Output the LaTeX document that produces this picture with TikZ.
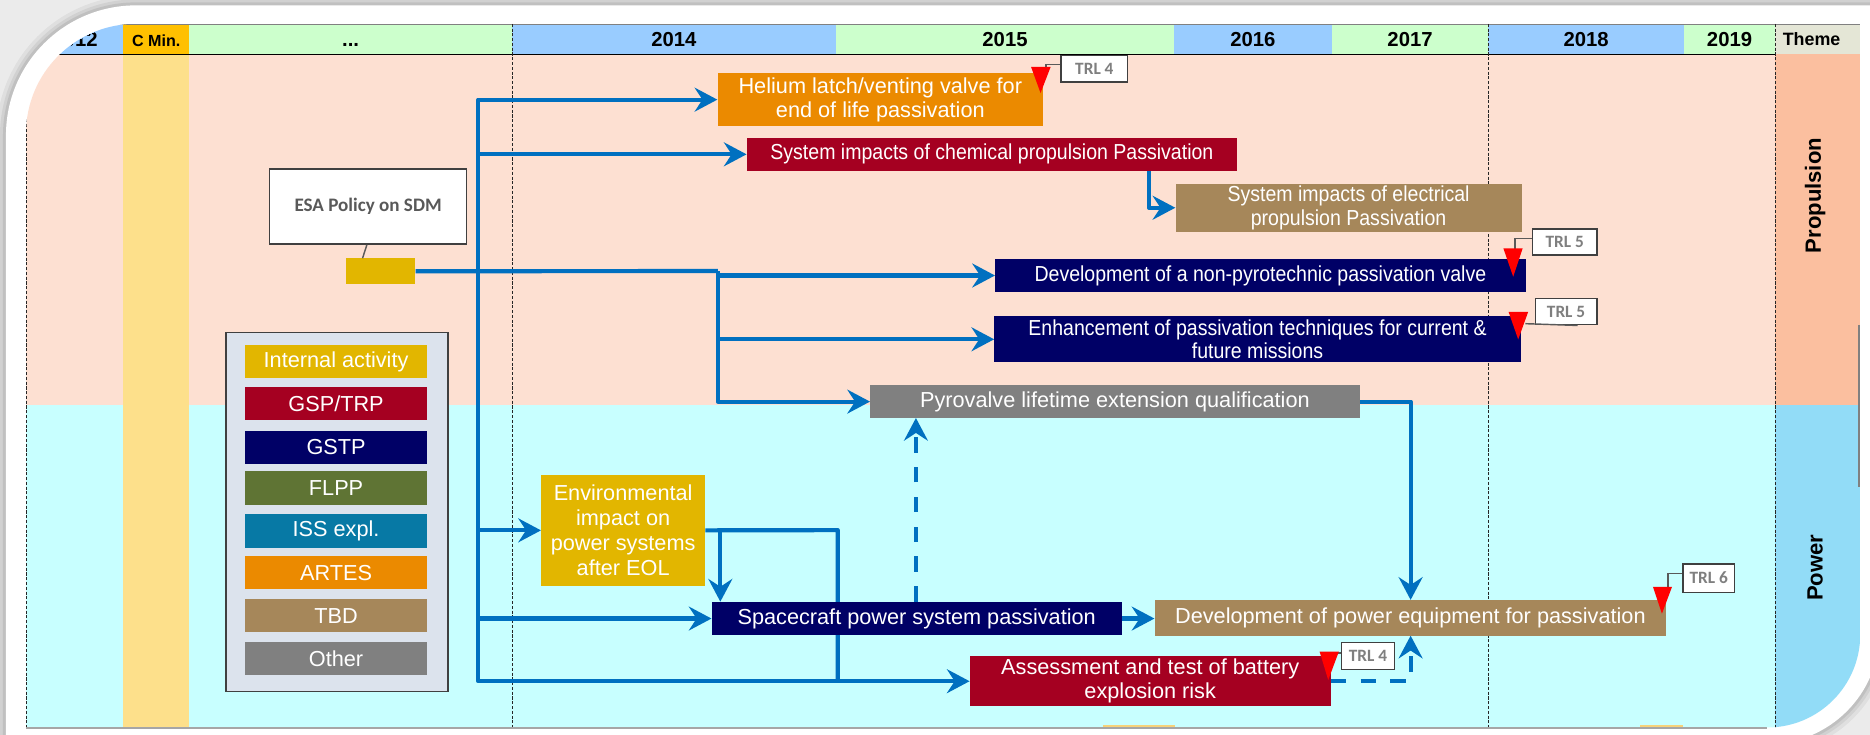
\documentclass[tikz,border=0pt]{standalone}
\usepackage{fontspec}
\setmainfont{Liberation Sans}
\newfontfamily\narrowfont{Liberation Sans}[FakeStretch=0.9]
\newfontfamily\calibfont{Carlito}
\usetikzlibrary{arrows.meta,calc}

\definecolor{bluehdr}{HTML}{99CCFF}
\definecolor{greenhdr}{HTML}{CCFFCC}
\definecolor{cminhdr}{HTML}{FFC000}
\definecolor{cmincol}{HTML}{FDE08B}
\definecolor{themehdr}{HTML}{E4E6D6}
\definecolor{propbg}{HTML}{FDE0D2}
\definecolor{powbg}{HTML}{C8FFFF}
\definecolor{propth}{HTML}{FBBF9F}
\definecolor{powth}{HTML}{92DCF7}
\definecolor{flowblue}{HTML}{0070C0}
\definecolor{cInternal}{HTML}{E2B600}
\definecolor{cGsp}{HTML}{A50021}
\definecolor{cGstp}{HTML}{000066}
\definecolor{cFlpp}{HTML}{5F7434}
\definecolor{cIss}{HTML}{0779A5}
\definecolor{cArtes}{HTML}{EB8A00}
\definecolor{cTbd}{HTML}{A6875A}
\definecolor{cOther}{HTML}{808080}
\definecolor{legbg}{HTML}{DCE3ED}
\definecolor{edge}{HTML}{404040}
\definecolor{trltext}{HTML}{7F7F7F}
\definecolor{esatext}{HTML}{595959}
\definecolor{sliver}{HTML}{F6D27A}

\pgfdeclarelayer{bg}
\pgfdeclarelayer{wires}
\pgfsetlayers{bg,wires,main}

% panel with rounded top-left and bottom-right corners: x1,y1,x2,y2,Rtl,Rbr
\newcommand\roundedpanel[6]{(#1,#4) -- (#1,{#2+#5}) .. controls (#1,{#2+0.4477*#5}) and ({#1+0.4477*#5},#2) .. ({#1+#5},#2) -- (#3,#2) -- (#3,{#4-#6}) .. controls (#3,{#4-0.4477*#6}) and ({#3-0.4477*#6},#4) .. ({#3-#6},#4) -- cycle}

\begin{document}
\begin{tikzpicture}[x=1pt,y=-1pt,
  box/.style={anchor=north west,inner sep=0pt,align=center,text=white,font=\fontsize{18.2}{20.2}\selectfont},
  nbox/.style={box,font=\narrowfont\fontsize{18.2}{19.6}\selectfont},
  legitem/.style={anchor=north west,inner sep=0pt,minimum width=152pt,minimum height=28pt,text=white,font=\fontsize{18.2}{20}\selectfont},
  flow/.style={draw=flowblue,line width=3.5pt,line join=round},
  arr/.style={-{Stealth[length=19pt,width=20pt,inset=6.5pt]}},
  dashflow/.style={flow,dash pattern=on 13pt off 12pt},
  trl/.style={draw=edge,line width=1.2pt,fill=white,inner sep=0pt,anchor=north west,text=trltext,font=\calibfont\bfseries\fontsize{14.5}{16}\selectfont},
  callout/.style={draw=esatext,line width=1.2pt},
  marker/.style={fill=red},
  grid/.style={draw=black!85,line width=0.9pt,dash pattern=on 2.6pt off 1.4pt},
  yearlbl/.style={anchor=base,font=\bfseries\fontsize{17}{17}\selectfont},
  themelbl/.style={rotate=90,font=\bfseries\fontsize{18.5}{18.5}\selectfont}]
\useasboundingbox (0,0) rectangle (1568,616);

\begin{pgfonlayer}{bg}
\begin{scope}
  \clip (0,0) rectangle (1568,616);
  % page background and soft shadow of the white frame
  \fill[black!8] (0,0) rectangle (1568,616);
  \foreach \w/\o in {16/0.05,10/0.06,5/0.08}{
    \draw[line width=\w pt,black,opacity=\o] \roundedpanel{5}{4.5}{1576}{624}{109}{94};
  }
  \fill[white] \roundedpanel{5}{4.5}{1576}{624}{109}{94};
\end{scope}

\begin{scope}
  \clip \roundedpanel{21.8}{20}{1559.8}{610}{92}{78};
  % theme rows
  \fill[propbg] (21.8,45.6) rectangle (1488.5,339.6);
  \fill[powbg] (21.8,339.6) rectangle (1488.5,612);
  \fill[cmincol] (103.4,45.6) rectangle (158.5,612);
  \fill[propth] (1488.5,45.6) rectangle (1559.8,339.6);
  \fill[powth] (1488.5,339.6) rectangle (1559.8,612);
  % header cells
  \fill[bluehdr] (21.8,20) rectangle (103.4,45.6);
  \fill[cminhdr] (103.4,20) rectangle (158.5,45.6);
  \fill[greenhdr] (158.5,20) rectangle (429.5,45.6);
  \fill[bluehdr] (429.5,20) rectangle (701,45.6);
  \fill[greenhdr] (701,20) rectangle (984.5,45.6);
  \fill[bluehdr] (984.5,20) rectangle (1116.6,45.6);
  \fill[greenhdr] (1116.6,20) rectangle (1248,45.6);
  \fill[bluehdr] (1248,20) rectangle (1412,45.6);
  \fill[greenhdr] (1412,20) rectangle (1488.5,45.6);
  \fill[themehdr] (1488.5,20) rectangle (1559.8,45.6);
  \draw[black!50,line width=1pt] (21.8,20.4) -- (1559.8,20.4);
  \draw[black,line width=1.3pt] (21.8,45.6) -- (1488.5,45.6);
  % tops of the next row's bars
  \fill[sliver] (925,607.5) rectangle (985,611);
  \fill[sliver] (1375,607.5) rectangle (1411,611);
  % year boundaries
  \draw[grid] (22.6,20) -- (22.6,612);
  \draw[grid] (429.5,20) -- (429.5,612);
  \draw[grid] (1248,20) -- (1248,612);
  \draw[grid] (1488.5,20) -- (1488.5,612);
  % header labels
  \node[yearlbl] (h2012) at (63,39) {2012};
  \node[yearlbl,font=\bfseries\fontsize{13.5}{13.5}\selectfont] (hcmin) at (131,38.6) {C Min.};
  \node[yearlbl] (hdots) at (294,39) {...};
  \node[yearlbl] (h2014) at (565,39) {2014};
  \node[yearlbl] (h2015) at (842.7,39) {2015};
  \node[yearlbl] (h2016) at (1050.5,39) {2016};
  \node[yearlbl] (h2017) at (1182.3,39) {2017};
  \node[yearlbl] (h2018) at (1330,39) {2018};
  \node[yearlbl] (h2019) at (1450.2,39) {2019};
  \node[yearlbl,font=\bfseries\fontsize{15}{15}\selectfont] (htheme) at (1519,38.4) {Theme};
  % theme names
  \node[themelbl] (thProp) at (1522,164) {Propulsion};
  \node[themelbl] (thPow) at (1522,476) {Power};
\end{scope}
\draw[black!35,line width=1.2pt] (21.8,610.4) -- (1482,610.4);
\draw[black!50,line width=1.8pt] (1558.8,272.5) -- (1558.8,408);
\end{pgfonlayer}

% legend
\node[anchor=north west,inner sep=0pt,minimum width=186pt,minimum height=301pt,fill=legbg,draw=edge,line width=1.3pt] (leg) at (189,278) {};
\node[legitem,fill=cInternal] (lgInternal) at (205.6,289) {Internal activity};
\node[legitem,fill=cGsp] (lgGsp) at (205.6,324) {GSP/TRP};
\node[legitem,fill=cGstp] (lgGstp) at (205.6,361) {GSTP};
\node[legitem,fill=cFlpp] (lgFlpp) at (205.6,395) {FLPP};
\node[legitem,fill=cIss] (lgIss) at (205.6,431) {ISS expl.};
\node[legitem,fill=cArtes] (lgArtes) at (205.6,466) {ARTES};
\node[legitem,fill=cTbd] (lgTbd) at (205.6,502) {TBD};
\node[legitem,fill=cOther] (lgOther) at (205.6,538) {Other};

% policy source
\node[anchor=north west,inner sep=0pt,minimum width=165.1pt,minimum height=63pt,fill=white,draw=edge,line width=1.2pt,text=esatext,font=\calibfont\bfseries\fontsize{16}{17}\selectfont] (esa) at (225.5,141) {ESA Policy on SDM};
\node[anchor=north west,inner sep=0pt,minimum width=58pt,minimum height=21.5pt,fill=cInternal] (ia) at (290,216.5) {};

% activities
\node[box,fill=cArtes,minimum width=272.9pt,minimum height=44.7pt] (helium) at (601.5,61) {Helium latch/venting valve for\\end of life passivation};
\node[nbox,fill=cGsp,minimum width=411pt,minimum height=27.6pt] (chem) at (626,115.4) {System impacts of chemical propulsion Passivation};
\node[nbox,fill=cTbd,minimum width=290.1pt,minimum height=40.6pt] (elec) at (985.5,153.7) {System impacts of electrical\\propulsion Passivation};
\node[nbox,fill=cGstp,minimum width=444.7pt,minimum height=27.6pt] (nonpyro) at (834.3,217) {Development of a non-pyrotechnic passivation valve};
\node[nbox,fill=cGstp,minimum width=441.3pt,minimum height=38.6pt] (enh) at (833.6,265) {Enhancement of passivation techniques for current \&\\future missions};
\node[box,fill=cOther,minimum width=410.3pt,minimum height=27.9pt] (pyro) at (729.5,322.6) {Pyrovalve lifetime extension qualification};
\node[box,fill=cInternal,minimum width=137.4pt,minimum height=93pt,font=\fontsize{18.2}{21}\selectfont] (env) at (453.6,398) {Environmental\\impact on\\power systems\\after EOL};
\node[box,fill=cGstp,minimum width=343.7pt,minimum height=27.9pt] (sc) at (596.6,504.5) {Spacecraft power system passivation};
\node[box,fill=cTbd,minimum width=428.8pt,minimum height=30pt] (dev) at (968,503) {Development of power equipment for passivation};
\node[box,fill=cGsp,minimum width=302.5pt,minimum height=42pt] (assess) at (813,550) {Assessment and test of battery\\explosion risk};

% junctions and connector end points
\coordinate (trunk) at (401,227.25);
\coordinate (split) at (602,227.25);
\coordinate (envR) at (702.5,444.5);
\coordinate (envB) at (604,444.5);
\coordinate (chemOut) at (963.5,143);
\coordinate (devTop) at (1182.8,503);
\coordinate (devBot) at (1182.8,533);
\coordinate (scUp) at (768,504.5);
\coordinate (pyroDn) at (768,350.5);

\begin{pgfonlayer}{wires}
\draw[flow] (ia.east) -- (split);
\draw[flow,arr] (trunk) |- (helium.west);
\draw[flow,arr] (trunk) |- (chem.west);
\draw[flow,arr] (trunk) |- (env.west);
\draw[flow,arr] (trunk) |- (sc.west);
\draw[flow,arr] (trunk) |- (assess.west);
\draw[flow,arr] (split) |- (nonpyro.west);
\draw[flow,arr] (split) |- (enh.west);
\draw[flow,arr] (split) |- (pyro.west);
\draw[flow,arr] (chemOut) |- (elec.west);
\draw[flow] (env.east) -- (envR) -- (envR |- assess.west);
\draw[flow,arr] (envB) -- (envB |- sc.north);
\draw[flow,arr] (pyro.east) -| (devTop);
\draw[flow,arr] (sc.east) -- (sc.east -| dev.west);
\draw[dashflow,arr] (scUp) -- (pyroDn);
\draw[dashflow,arr] (assess.east) -| (devBot);
\end{pgfonlayer}

% policy link
\draw[callout] ($(esa.south)+(-1,0)$) -- ($(ia.north west)+(14,0)$);

% readiness levels
\node[trl,minimum width=56pt,minimum height=22pt] (trlA) at (889,46) {TRL 4};
\node[trl,minimum width=53.7pt,minimum height=21.8pt] (trlB) at (1284.6,191.5) {TRL 5};
\node[trl,minimum width=51.5pt,minimum height=22pt] (trlC) at (1286.8,249.7) {TRL 5};
\node[trl,minimum width=44.1pt,minimum height=23pt] (trlD) at (1124.4,538) {TRL 4};
\node[trl,minimum width=43.6pt,minimum height=23.7pt] (trlE) at (1410.4,472.3) {TRL 6};

\draw[callout] (877,57) |- ($(trlA.north west)+(0,8)$);
\draw[callout] (1270.3,209) |- ($(trlB.north west)+(0,8.5)$);
\draw[callout] (1279,271.4) -- ($(trlC.south west)+(36,0)$);
\draw[callout] (1120,547.5) -- ($(trlD.north west)+(0,9.5)$);
\draw[callout] (1398.6,493) |- ($(trlE.north west)+(0,8.7)$);

\fill[marker] (864.5,56) -- (881,56) -- (872.5,78) -- cycle;
\fill[marker] (1260.6,208.3) -- (1276.7,208.3) -- (1268.8,232) -- cycle;
\fill[marker] (1264.9,261.4) -- (1281.4,261.4) -- (1273,284.6) -- cycle;
\fill[marker] (1106.5,546.4) -- (1122.6,546.4) -- (1113.7,570.2) -- cycle;
\fill[marker] (1386,492) -- (1402,492) -- (1393.5,514.6) -- cycle;
\end{tikzpicture}
\end{document}
